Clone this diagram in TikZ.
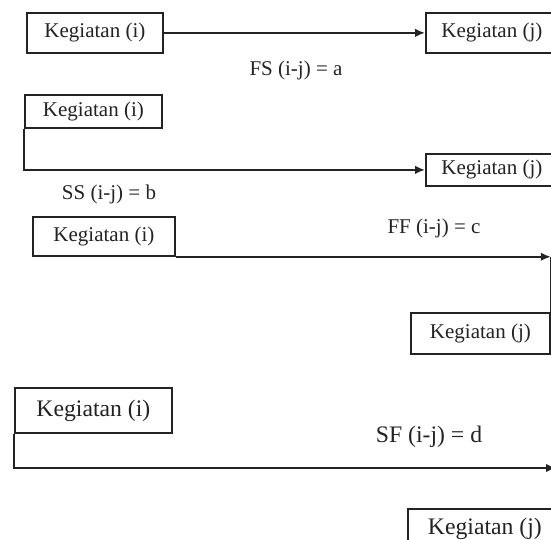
\documentclass[tikz,border=0pt]{standalone}
\usepackage{fontspec}
\setmainfont{Liberation Serif}
\usetikzlibrary{arrows.meta}
\definecolor{ink}{RGB}{35,35,35}
\newcommand{\fsA}{\fontsize{21}{21}\selectfont}
\newcommand{\fsB}{\fontsize{23.7}{24}\selectfont}
\begin{document}
\begin{tikzpicture}[x=1pt,y=-1pt,
  box/.style={draw=ink, line width=1.8pt, inner sep=0pt, anchor=north west, text=ink},
  conn/.style={draw=ink, line width=1.8pt},
  arr/.style={conn, -{Latex[length=10pt,width=8.5pt]}},
  lbl/.style={text=ink, inner sep=0pt}]
\useasboundingbox (0,0) rectangle (551,540);
\clip (0,0) rectangle (551,540);
\fill[white] (0,0) rectangle (551,540);

% Row 1: FS
\node[box, minimum width=136pt, minimum height=40pt, font=\fsA] (a1) at (26,12) {Kegiatan (i)};
\node[box, minimum width=132pt, minimum height=40pt, font=\fsA] (b1) at (425,12) {Kegiatan (j)};
\draw[arr] (a1.east) -- (b1.west);
\node[lbl, font=\fsA] (fs) at (296,70) {FS (i-j) = a};

% Row 2: SS
\node[box, minimum width=137pt, minimum height=33pt, font=\fsA] (a2) at (24,94) {Kegiatan (i)};
\node[box, minimum width=132pt, minimum height=32pt, font=\fsA] (b2) at (425,153) {Kegiatan (j)};
\draw[arr] (a2.south west) |- (b2.west);
\node[lbl, font=\fsA] (ss) at (109,194) {SS (i-j) = b};

% Row 3: FF
\node[box, minimum width=142pt, minimum height=39pt, font=\fsA] (a3) at (32,216) {Kegiatan (i)};
\node[box, minimum width=139pt, minimum height=41pt, font=\fsA] (b3) at (410,312) {Kegiatan (j)};
\coordinate (f3) at (a3.south east -| b3.north east);
\draw[arr] (a3.south east) -- (f3);
\draw[conn] (f3) -- (b3.north east);
\node[lbl, font=\fsA] (ff) at (434,228) {FF (i-j) = c};

% Row 4: SF
\node[box, minimum width=157pt, minimum height=45pt, font=\fsB] (a4) at (14,387) {Kegiatan (i)};
\node[box, minimum width=154pt, minimum height=40pt, font=\fsB] (b4) at (407,508) {Kegiatan (j)};
\coordinate (f4) at (556,468);
\draw[arr] (a4.south west) |- (f4);
\node[lbl, font=\fsB] (sf) at (429,437) {SF (i-j) = d};
\end{tikzpicture}
\end{document}
